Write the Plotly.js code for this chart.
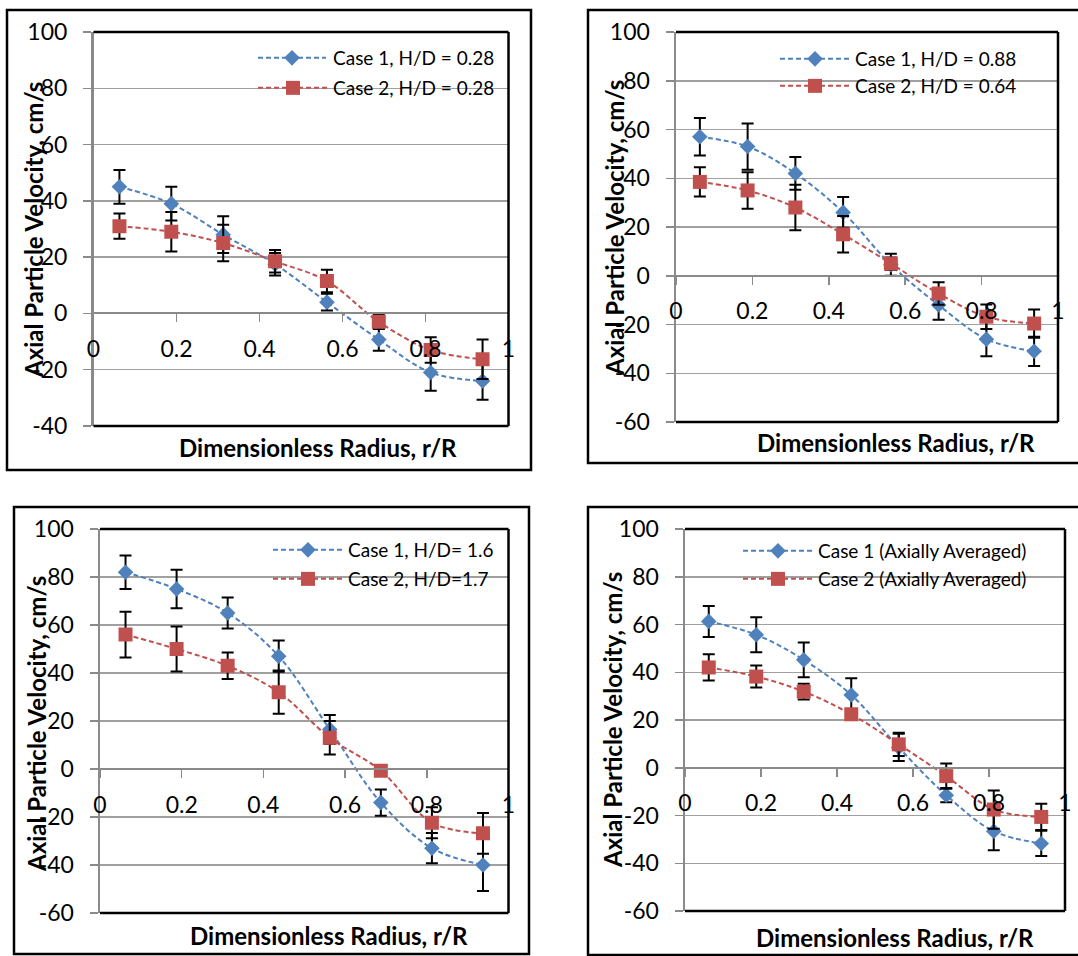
<!DOCTYPE html>
<html>
<head>
<meta charset="utf-8">
<script src="https://cdn.plot.ly/plotly-3.0.1.min.js"></script>
<style>
html,body{margin:0;padding:0;background:#fff;}
#chart{width:1078px;height:956px;}
</style>
</head>
<body>
<div id="chart"></div>
<script>
// ---------------- data ----------------
const radius = [0.0625, 0.1875, 0.3125, 0.4375, 0.5625, 0.6875, 0.8125, 0.9375];
const xTickVals = [0, 0.2, 0.4, 0.6, 0.8, 1];
const xTickText = ["0", "0.2", "0.4", "0.6", "0.8", "1"];
const yTickVals40 = [-40, -20, 0, 20, 40, 60, 80, 100];
const yTickText40 = ["-40", "-20", "0", "20", "40", "60", "80", "100"];
const yTickVals60 = [-60, -40, -20, 0, 20, 40, 60, 80, 100];
const yTickText60 = ["-60", "-40", "-20", "0", "20", "40", "60", "80", "100"];

const p1Names = ["Case 1, H/D = 0.28", "Case 2, H/D = 0.28"];
const p1Case1 = [45, 39, 28, 17.5, 4, -9.3, -21, -24];
const p1Case1Err = [6, 6, 6.5, 4, 3, 4, 6.5, 6.7];
const p1Case2 = [31, 29, 25, 18.5, 11.5, -3, -13, -16.3];
const p1Case2Err = [4.5, 7, 6.5, 4, 4, 2.5, 4.5, 7];
const p1YRange = [-40, 100];

const p2Names = ["Case 1, H/D = 0.88", "Case 2, H/D = 0.64"];
const p2Case1 = [57, 53, 42, 26, 4.5, -12, -26, -31];
const p2Case1Err = [7.7, 9.5, 6.7, 6.3, 4.5, 6, 7, 6];
const p2Case2 = [38.5, 35, 28, 17, 5, -7.3, -16.8, -19.6];
const p2Case2Err = [6, 7.5, 9.3, 7.5, 2.5, 4.6, 5, 5.8];
const p2YRange = [-60, 100];

const p3Names = ["Case 1, H/D= 1.6", "Case 2, H/D=1.7"];
const p3Case1 = [82, 75, 65, 47, 16.5, -14, -33, -40];
const p3Case1Err = [7, 8, 6.5, 6.5, 6, 5.5, 6.3, 10.8];
const p3Case2 = [56, 50, 43, 32, 13, -0.7, -22.4, -26.8];
const p3Case2Err = [9.5, 9.4, 5.5, 9, 7, 1, 6.5, 8.5];
const p3YRange = [-60, 100];

const p4Names = ["Case 1 (Axially Averaged)", "Case 2 (Axially Averaged)"];
const p4Case1 = [61.3, 55.7, 45.2, 30.5, 8.5, -11.5, -26.6, -31.7];
const p4Case1Err = [6.5, 7.3, 7.3, 7, 5.7, 3, 8, 5.3];
const p4Case2 = [42, 38.2, 31.9, 22.4, 9.8, -3.5, -17.5, -20.6];
const p4Case2Err = [5.5, 4.6, 3.3, 2, 4.9, 5.3, 8, 5.5];
const p4YRange = [-60, 100];

const yTitle = "Axial Particle Velocity, cm/s";
const xTitle = "Dimensionless Radius, r/R";

// ---------------- styling / layout ----------------
const W = 1078, H = 956;
const BLUE = "#4F81BD", RED = "#C0504D";
const FONT = "Lato, 'Open Sans', 'DejaVu Sans', sans-serif";

// pixel geometry of each panel (plot area, outer frame, titles, legend rows)
const panels = [
  {names:p1Names, c1:p1Case1, e1:p1Case1Err, c2:p1Case2, e2:p1Case2Err, yr:p1YRange,
   tv:yTickVals40, tt:yTickText40,
   plot:[93.5, 508.5, 32, 426], frame:[7, 10, 531, 470],
   yt:[33, 230], xt:[318, 447], leg:[258, 58, 88]},
  {names:p2Names, c1:p2Case1, e1:p2Case1Err, c2:p2Case2, e2:p2Case2Err, yr:p2YRange,
   tv:yTickVals60, tt:yTickText60,
   plot:[676, 1058, 32, 422], frame:[588, 10, 1090, 463],
   yt:[614, 228], xt:[896, 443], leg:[780, 59, 86]},
  {names:p3Names, c1:p3Case1, e1:p3Case1Err, c2:p3Case2, e2:p3Case2Err, yr:p3YRange,
   tv:yTickVals60, tt:yTickText60,
   plot:[100, 508.5, 529, 913], frame:[14, 507, 529, 954],
   yt:[36, 724], xt:[329, 935], leg:[273, 550, 579]},
  {names:p4Names, c1:p4Case1, e1:p4Case1Err, c2:p4Case2, e2:p4Case2Err, yr:p4YRange,
   tv:yTickVals60, tt:yTickText60,
   plot:[685, 1065, 529, 911], frame:[588, 507, 1090, 955],
   yt:[612, 720], xt:[895, 937], leg:[743, 551, 579]}
];

const px = v => v / W;
const py = v => 1 - v / H;

const traces = [];
const layout = {
  width: W, height: H,
  margin: {l:0, r:0, t:0, b:0},
  paper_bgcolor: "#ffffff", plot_bgcolor: "rgba(0,0,0,0)",
  font: {family: FONT, size: 23, color: "#000"},
  showlegend: true,
  shapes: [], annotations: []
};

let legIdx = 1;
panels.forEach((p, i) => {
  const n = i + 1;
  const xa = "xaxis" + (n === 1 ? "" : n), ya = "yaxis" + (n === 1 ? "" : n);
  const xr = "x" + (n === 1 ? "" : n), yr = "y" + (n === 1 ? "" : n);
  const [L, R, T, B] = p.plot;
  const yd = [py(B), py(T)];
  const zeroPos = yd[0] + (0 - p.yr[0]) / (p.yr[1] - p.yr[0]) * (yd[1] - yd[0]);

  layout[xa] = {
    domain: [px(L), px(R)], range: [0, 1], anchor: "free", position: zeroPos,
    showgrid: false, zeroline: false, showline: true, linecolor: "#8a8a8a", linewidth: 2,
    ticks: "outside", ticklen: 8, tickwidth: 1.5, tickcolor: "#8a8a8a",
    tickmode: "array", tickvals: xTickVals, ticktext: xTickText,
    ticklabelstandoff: 7, tickfont: {family: FONT, size: 23, color: "#000"},
    fixedrange: true
  };
  layout[ya] = {
    domain: yd, range: p.yr, anchor: xr,
    showgrid: true, gridcolor: "#a0a0a0", gridwidth: 1.5, zeroline: false,
    showline: true, linecolor: "#8a8a8a", linewidth: 2.5,
    ticks: "outside", ticklen: 8, tickwidth: 1.5, tickcolor: "#8a8a8a",
    tickmode: "array", tickvals: p.tv, ticktext: p.tt, ticklabelstandoff: 11,
    tickfont: {family: FONT, size: 23, color: "#000"},
    fixedrange: true
  };

  const series = [
    {y: p.c1, e: p.e1, color: BLUE, symbol: "diamond", size: 12, name: p.names[0], row: p.leg[1]},
    {y: p.c2, e: p.e2, color: RED, symbol: "square", size: 14, name: p.names[1], row: p.leg[2]}
  ];
  series.forEach(s => {
    const lg = "legend" + (legIdx === 1 ? "" : legIdx);
    traces.push({
      type: "scatter", mode: "lines+markers", x: radius, y: s.y, name: s.name,
      xaxis: xr, yaxis: yr, legend: lg,
      line: {color: s.color, width: 2, dash: "5px,3px", shape: "spline", smoothing: 1},
      marker: {symbol: s.symbol, size: s.size, color: s.color},
      error_y: {type: "data", array: s.e, visible: true, color: "#000", thickness: 2, width: 6}
    });
    layout[lg] = {
      x: px(p.leg[0] - 5), xanchor: "left", y: py(s.row), yanchor: "middle",
      bgcolor: "rgba(0,0,0,0)", borderwidth: 0, itemwidth: 70,
      font: {family: FONT, size: 19, color: "#000"}, tracegroupgap: 0
    };
    legIdx++;
  });

  // plot area border (top, right, bottom) in black
  const lineStyle = {color: "#000", width: 2.5};
  layout.shapes.push(
    {type: "line", xref: xr + " domain", yref: yr + " domain", x0: 0, x1: 1, y0: 1, y1: 1, line: lineStyle, layer: "above"},
    {type: "line", xref: xr + " domain", yref: yr + " domain", x0: 1, x1: 1, y0: 0, y1: 1, line: lineStyle, layer: "above"},
    {type: "line", xref: xr + " domain", yref: yr + " domain", x0: 0, x1: 1, y0: 0, y1: 0, line: lineStyle, layer: "above"}
  );
  // outer chart frame
  const [fx0, fy0, fx1, fy1] = p.frame;
  layout.shapes.push({type: "rect", xref: "paper", yref: "paper",
    x0: px(fx0), x1: px(fx1), y0: py(fy1), y1: py(fy0),
    line: {color: "#000", width: 2.5}, fillcolor: "rgba(0,0,0,0)", layer: "above"});

  // axis titles
  layout.annotations.push(
    {text: yTitle, xref: "paper", yref: "paper", x: px(p.yt[0]), y: py(p.yt[1]),
     xanchor: "center", yanchor: "middle", textangle: -90, showarrow: false,
     font: {family: FONT, size: 24, weight: 700, color: "#000"}},
    {text: xTitle, xref: "paper", yref: "paper", x: px(p.xt[0]), y: py(p.xt[1]),
     xanchor: "center", yanchor: "middle", showarrow: false,
     font: {family: FONT, size: 24, weight: 700, color: "#000"}}
  );
});

Plotly.newPlot("chart", traces, layout, {staticPlot: true, displayModeBar: false}).then(gd => {
  // lengthen legend line samples to match the reference (Excel style)
  gd.querySelectorAll(".legend .legendlines path").forEach(p => p.setAttribute("d", "M5,0h68"));
  gd.querySelectorAll(".legend .legendsymbols .scatterpts").forEach(p => p.setAttribute("transform", "translate(39,0)"));
});
</script>
</body>
</html>
